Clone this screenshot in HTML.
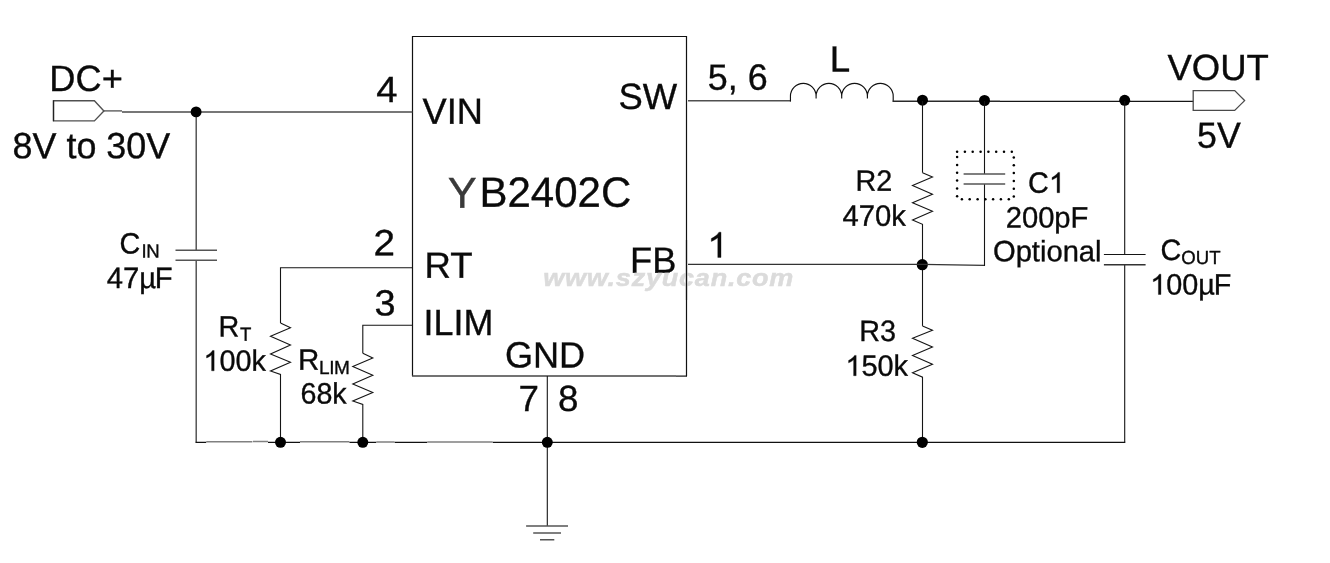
<!DOCTYPE html>
<html><head><meta charset="utf-8">
<style>
html,body{margin:0;padding:0;background:#fff;}
body{width:1330px;height:563px;overflow:hidden;position:relative;font-family:"Liberation Sans",sans-serif;}
svg{position:absolute;left:0;top:0;will-change:transform;}
text{font-family:"Liberation Sans",sans-serif;fill:#0a0a0a;stroke:#0a0a0a;stroke-width:0.35;}
.w{stroke:#151515;stroke-width:1.1;fill:none;}
.lw{stroke:#4a4a4a;stroke-width:1.4;fill:none;}
.tw{stroke:#2a2a2a;stroke-width:1.3;fill:none;}
.lt{stroke:#9a9a9a;stroke-width:1.6;fill:none;}
.g{stroke:#555;stroke-width:1.5;fill:none;}
.c{stroke:#5a5a5a;stroke-width:1.3;fill:none;}
.d{fill:#000;}
</style></head><body>
<svg width="1330" height="563" viewBox="0 0 1330 563">
<!-- IC box -->
<path d="M412.5 376 V36.5 H686.5 V376.3" fill="none" stroke="#111" stroke-width="1.2"/>
<path d="M412 376 H676" class="g" style="stroke:#444;stroke-width:1.4"/><path d="M676 376.1 H687" fill="none" stroke="#111" stroke-width="1.2"/>
<!-- left input -->
<path class="c" d="M53.5 100.8 H94.4 L103.9 110.9 L94.4 120.9 H53.5 Z" style="stroke:#505050;stroke-width:1.4"/><path d="M53.5 100.5 V121.2" fill="none" stroke="#222" stroke-width="1.2"/>
<path class="c" d="M103.5 110.9 H122" style="stroke:#505050;stroke-width:1.3"/>
<path class="lw" d="M122 112 H412.5"/>
<path class="lw" d="M196.2 112 V250 M196.2 260.2 V442.2"/>
<path d="M195.5 442.3 H206.2 M268 442.3 H300 M349.4 442.3 H376.3 M394.6 442.3 H427.3 M492.7 442.3 H1125.3" fill="none" stroke="#111" stroke-width="1.2"/>
<path class="lt" d="M206.2 441.7 H252.4 M253 441.4 H268 M300 441.8 H349.4 M376.3 442.1 H394.6 M427.3 442.1 H492.7" style="stroke:#808080;stroke-width:1.5"/>
<path class="g" d="M175.5 250.2 H217 M175.5 260.2 H217"/>
<circle class="d" cx="196.1" cy="111.9" r="5.45"/>
<!-- RT -->
<path class="w" d="M412.8 267.8 H280.5 V322.9"/>
<path class="w" d="M280.5 322.9 L290.5 327.8 L270.5 336.2 L290.5 345 L270.5 354 L290.5 362.2 L270.5 371 L280.5 374.4 V442.2"/>
<circle class="d" cx="280.5" cy="442.3" r="5.5"/>
<!-- RLIM -->
<path class="w" d="M412.8 325.3 H362.8 V353.3"/>
<path class="w" d="M362.8 353.3 L372.8 358 L352.8 366.5 L372.8 375.2 L352.8 384 L372.8 392.5 L352.8 401 L362.8 404.4 V442.2"/>
<circle class="d" cx="362.8" cy="442.3" r="5.5"/>
<!-- GND -->
<path class="w" d="M547.3 376 V526"/>
<path class="g" d="M526.1 526 H568 M533.2 533.1 H561 M540 539.8 H554.3"/>
<circle class="d" cx="547.3" cy="442.3" r="5.5"/>
<!-- SW -->
<path d="M688 100.85 H790.9" fill="none" stroke="#505050" stroke-width="1.5"/>
<path d="M790.45 101.5 V96.2 A12.82 12.8 0 0 1 816.1 96.2 V98.6 V96.2 A12.8 12.8 0 0 1 841.7 96.2 V98.6 V96.2 A12.85 12.8 0 0 1 867.4 96.2 V98.6 V96.2 A12.9 12.8 0 0 1 893.2 96.2 V101.8" fill="none" stroke="#111" stroke-width="1.15"/>
<path class="tw" d="M892.7 101.25 H1000"/>
<path class="w" d="M1000 101.4 H1193.3" style="stroke-width:1.2"/>
<circle class="d" cx="922.5" cy="100.2" r="5.5"/>
<circle class="d" cx="984.5" cy="100.5" r="5.5"/>
<circle class="d" cx="1124.7" cy="100.3" r="5.5"/>
<path class="c" d="M1193.2 90.6 H1234.7 L1244.6 100.6 L1234.7 110.4 H1193.2 Z" style="stroke:#4a4a4a;stroke-width:1.3"/>
<!-- R2 -->
<path class="w" d="M922.5 101 V172.7"/>
<path class="w" d="M922.5 172.7 L932.5 177 L912.5 185.4 L932.5 194.2 L912.5 202.8 L932.5 211.3 L912.5 219.9 L922.5 224.3 V264.5"/>
<!-- R3 -->
<path class="w" d="M922.5 264.5 V325.9"/>
<path class="w" d="M922.5 325.9 L932.5 330.2 L912.5 338.2 L932.5 347 L912.5 355.5 L932.5 364.3 L912.5 372.8 L922.5 377.2 V442.2"/>
<circle class="d" cx="922.3" cy="264.7" r="5.6"/>
<circle class="d" cx="922.3" cy="442.3" r="5.6"/>
<!-- FB -->
<path class="w" d="M688 264.4 H922.3 L984.5 265.4" style="stroke:#333;stroke-width:1.3"/>
<path class="w" d="M984.5 265.9 V184.1 M984.5 173.9 V101"/>
<path class="g" d="M963.6 173.9 H1005.2 M963.6 184.1 H1005.2"/>
<g fill="#000"><circle cx="957.1" cy="151.8" r="1.25"/><circle cx="964.9" cy="151.8" r="1.25"/><circle cx="972.7" cy="151.8" r="1.25"/><circle cx="980.6" cy="151.8" r="1.25"/><circle cx="988.4" cy="151.8" r="1.25"/><circle cx="996.2" cy="151.8" r="1.25"/><circle cx="1004.0" cy="151.8" r="1.25"/><circle cx="1011.8" cy="151.8" r="1.25"/><circle cx="1013.8" cy="157.5" r="1.25"/><circle cx="1013.8" cy="165.2" r="1.25"/><circle cx="1013.8" cy="173.1" r="1.25"/><circle cx="1013.8" cy="180.9" r="1.25"/><circle cx="1013.8" cy="188.7" r="1.25"/><circle cx="1013.8" cy="196.6" r="1.25"/><circle cx="961.9" cy="199.3" r="1.25"/><circle cx="969.7" cy="199.3" r="1.25"/><circle cx="977.6" cy="199.3" r="1.25"/><circle cx="985.4" cy="199.3" r="1.25"/><circle cx="993.1" cy="199.3" r="1.25"/><circle cx="1000.9" cy="199.3" r="1.25"/><circle cx="1008.8" cy="199.3" r="1.25"/><circle cx="957.1" cy="157.1" r="1.25"/><circle cx="957.1" cy="164.9" r="1.25"/><circle cx="957.1" cy="172.8" r="1.25"/><circle cx="957.1" cy="180.5" r="1.25"/><circle cx="957.1" cy="188.4" r="1.25"/><circle cx="957.1" cy="196.2" r="1.25"/></g>
<!-- Cout -->
<path class="w" d="M1124.7 101 V254.5 M1124.7 264.7 V442.3"/>
<path d="M1103.9 254.5 H1145.6" fill="none" stroke="#151515" stroke-width="1.2"/><path d="M1103.9 264.7 H1145.6" fill="none" stroke="#333" stroke-width="1.4"/>

<!-- text -->
<g id="t_dc" transform="translate(49.30,91) rotate(0.03) scale(0.9931,1)" font-size="36.5"><text x="0" y="0">DC+</text></g>
<g id="t_8v" transform="translate(12.60,158.3) rotate(0.03) scale(0.9830,1)" font-size="36.5"><text x="0" y="0">8V to 30V</text></g>
<g id="t_4" transform="translate(376.30,101.9) rotate(0.03) scale(1.0485,1)" font-size="36.5"><text x="0" y="0">4</text></g>
<g id="t_2" transform="translate(373.40,255.2) rotate(0.03) scale(1.0586,1)" font-size="36.5"><text x="0" y="0">2</text></g>
<g id="t_3" transform="translate(374.50,315.6) rotate(0.03) scale(1.0385,1)" font-size="36.5"><text x="0" y="0">3</text></g>
<g id="t_vin" transform="translate(422.50,123.8) rotate(0.03) scale(0.9931,1)" font-size="36.5"><text x="0" y="0">VIN</text></g>
<g id="t_sw" transform="translate(618.50,109.1) rotate(0.03) scale(0.9981,1)" font-size="36.5"><text x="0" y="0">SW</text></g>
<g id="t_y" transform="translate(447.80,207.8) rotate(0.03) scale(1.0000,1)" font-size="43.4"><text x="0" y="0" style="fill:#3a3a3a;stroke:#3a3a3a">Y</text></g>
<g id="t_yb" transform="translate(479.50,206.7) rotate(0.03) scale(0.9930,1)" font-size="42.3"><text x="0" y="0">B2402C</text></g>
<g id="t_rt" transform="translate(424.50,277.8) rotate(0.03) scale(1.0012,1)" font-size="36.5"><text x="0" y="0">RT</text></g>
<g id="t_fb" transform="translate(630.00,272.8) rotate(0.03) scale(0.9931,1)" font-size="36.5"><text x="0" y="0">FB</text></g>
<g id="t_ilim" transform="translate(423.50,335) rotate(0.03) scale(0.9830,1)" font-size="36.5"><text x="0" y="0">ILIM</text></g>
<g id="t_gnd" transform="translate(505.00,367.4) rotate(0.03) scale(0.9882,1)" font-size="36.5"><text x="0" y="0">GND</text></g>
<g id="t_7" transform="translate(518.50,411) rotate(0.03) scale(1.0082,1)" font-size="36.5"><text x="0" y="0">7</text></g>
<g id="t_8" transform="translate(558.00,411) rotate(0.03) scale(1.0082,1)" font-size="36.5"><text x="0" y="0">8</text></g>
<g id="t_56" transform="translate(707.80,89.8) rotate(0.03) scale(0.9831,1)" font-size="36.5"><text x="0" y="0">5, 6</text></g>
<g id="t_1" transform="translate(707.30,257.4) rotate(0.03) scale(1.0082,1)" font-size="36.5"><path d="M763 0H583V1147Q518 1085 412.5 1023Q307 961 223 930V1104Q374 1175 487 1276Q600 1377 647 1472H763Z" transform="translate(0,0) scale(0.01782,-0.01715)" fill="#0a0a0a" stroke="#0a0a0a" stroke-width="19.6"/></g>
<g id="t_l" transform="translate(829.70,71.5) rotate(0.03) scale(1.0082,1)" font-size="36.5"><text x="0" y="0">L</text></g>
<g id="t_vout" transform="translate(1167.50,80) rotate(0.03) scale(1.0001,1)" font-size="36.5"><text x="0" y="0">VOUT</text></g>
<g id="t_5v" transform="translate(1197.10,147.8) rotate(0.03) scale(0.9780,1)" font-size="36.5"><text x="0" y="0">5V</text></g>
<g id="t_cin" transform="translate(119.40,253.5) rotate(0.03) scale(0.9796,1)" font-size="29.4"><text x="0" y="0">C<tspan font-size="19.0" dx="1.4" dy="3.9" letter-spacing="-0.5">IN</tspan></text></g>
<g id="t_47" transform="translate(106.70,287.9) rotate(0.03) scale(0.9943,1)" font-size="29.4"><text x="0" y="0">47µ<tspan dx="-1.2">F</tspan></text></g>
<g id="t_rt2" transform="translate(218.50,336.4) rotate(0.03) scale(0.9796,1)" font-size="29.4"><text x="0" y="0">R<tspan font-size="19.0" dx="0.6" dy="4.3">T</tspan></text></g>
<g id="t_100k" transform="translate(203.40,370.8) rotate(0.03) scale(0.9796,1)" font-size="29.4"><path d="M763 0H583V1147Q518 1085 412.5 1023Q307 961 223 930V1104Q374 1175 487 1276Q600 1377 647 1472H763Z" transform="translate(0,0) scale(0.01436,-0.01381)" fill="#0a0a0a" stroke="#0a0a0a" stroke-width="24.4"/><text x="16.3464" y="0">00k</text></g>
<g id="t_rlim" transform="translate(298.00,369.7) rotate(0.03) scale(1.0041,1)" font-size="29.4"><text x="0" y="0">R<tspan font-size="19.0" dx="-0.2" dy="4.3" letter-spacing="-0.45">LIM</tspan></text></g>
<g id="t_68k" transform="translate(300.50,403.4) rotate(0.03) scale(0.9747,1)" font-size="29.4"><text x="0" y="0">68k</text></g>
<g id="t_r2" transform="translate(855.50,190.7) rotate(0.03) scale(0.9796,1)" font-size="29.4"><text x="0" y="0">R2</text></g>
<g id="t_470k" transform="translate(842.50,225.8) rotate(0.03) scale(0.9943,1)" font-size="29.4"><text x="0" y="0">470k</text></g>
<g id="t_r3" transform="translate(859.20,341.1) rotate(0.03) scale(0.9796,1)" font-size="29.4"><text x="0" y="0">R3</text></g>
<g id="t_150k" transform="translate(845.40,375.7) rotate(0.03) scale(0.9823,1)" font-size="29.4"><path d="M763 0H583V1147Q518 1085 412.5 1023Q307 961 223 930V1104Q374 1175 487 1276Q600 1377 647 1472H763Z" transform="translate(0,0) scale(0.01436,-0.01381)" fill="#0a0a0a" stroke="#0a0a0a" stroke-width="24.4"/><text x="16.3464" y="0">50k</text></g>
<g id="t_c1" transform="translate(1028.00,192.7) rotate(0.03) scale(0.9796,1)" font-size="29.4"><text x="0" y="0">C</text><path d="M763 0H583V1147Q518 1085 412.5 1023Q307 961 223 930V1104Q374 1175 487 1276Q600 1377 647 1472H763Z" transform="translate(21.3268,0) scale(0.01436,-0.01381)" fill="#0a0a0a" stroke="#0a0a0a" stroke-width="24.4"/></g>
<g id="t_200" transform="translate(1005.70,227.5) rotate(0.03) scale(0.9923,1)" font-size="29.4"><text x="0" y="0">200pF</text></g>
<g id="t_opt" transform="translate(993.00,261.2) rotate(0.03) scale(0.9913,1)" font-size="29.4"><text x="0" y="0">Optional</text></g>
<g id="t_cout" transform="translate(1160.50,260.0) rotate(0.03) scale(0.9796,1)" font-size="29.4"><text x="0" y="0">C<tspan font-size="19.0" dx="0" dy="4.0">OUT</tspan></text></g>
<g id="t_100u" transform="translate(1150.20,294.5) rotate(0.03) scale(0.9796,1)" font-size="29.4"><path d="M763 0H583V1147Q518 1085 412.5 1023Q307 961 223 930V1104Q374 1175 487 1276Q600 1377 647 1472H763Z" transform="translate(0,0) scale(0.01436,-0.01381)" fill="#0a0a0a" stroke="#0a0a0a" stroke-width="24.4"/><text x="16.3464" y="0">00µ<tspan dx="-1.2">F</tspan></text></g>
<!-- watermark -->
<g transform="translate(543.2,285.9) scale(1.09,1)"><text x="0" y="0" font-size="24.8" font-style="italic" font-weight="bold" style="fill:#dbdbdb;stroke:#dbdbdb;stroke-width:0.5" textLength="229.5" lengthAdjust="spacing">www.szyucan.com</text></g>
<path d="M686.5 240 V300" fill="none" stroke="#111" stroke-width="1.2"/>
</svg>
</body></html>
